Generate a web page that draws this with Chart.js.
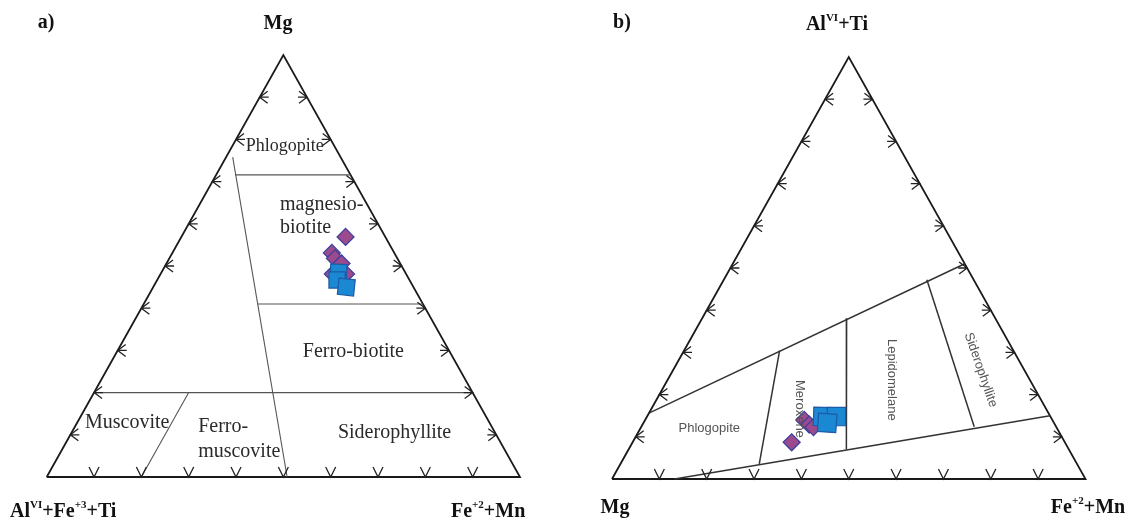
<!DOCTYPE html>
<html>
<head>
<meta charset="utf-8">
<script src="https://cdn.jsdelivr.net/npm/chart.js@4.4.1/dist/chart.umd.min.js"></script>
<style>
  html, body { margin: 0; padding: 0; background: #fff; }
  #wrap { position: relative; width: 1128px; height: 523px; }
  .box { position: absolute; top: 0; width: 564px; height: 523px; }
  #box-a { left: 0; }
  #box-b { left: 564px; }
</style>
</head>
<body>
<div id="wrap">
  <div class="box" id="box-a"><canvas id="chart-a"></canvas></div>
  <div class="box" id="box-b"><canvas id="chart-b"></canvas></div>
</div>
<script>
// every composition is [left corner, top corner, right corner] in %
const tickSteps = [10, 20, 30, 40, 50, 60, 70, 80, 90];
const corners = [[100, 0, 0], [0, 0, 100], [0, 100, 0], [100, 0, 0]];

// a) left AlVI+Fe3+Ti, top Mg, right Fe2+Mn
const aDiamonds = [
    [8.4, 56.9, 34.7], [13.2, 53.1, 33.7], [13.2, 51.8, 35.0],
    [12.4, 50.6, 37.0], [15.5, 48.1, 36.4], [12.7, 48.1, 39.2]
];
const aSquares = [[14.1, 48.5, 37.4], [15.3, 46.7, 38.0], [14.2, 45.0, 40.8]];
const aFields = [
    [[80, 20, 0], [0, 20, 80]],
    [[22.8, 75.8, 1.4], [49.2, 0, 50.8]],
    [[24.4, 71.6, 4.0], [0, 71.6, 28.4]],
    [[35, 41, 24], [0, 41, 59]],
    [[60, 20, 20], [80, 0, 20]]
];
const aFieldNames = ['Phlogopite', 'magnesio-', 'biotite', 'Ferro-biotite', 'Muscovite', 'Ferro-', 'muscovite', 'Siderophyllite'];

// b) left Mg, top AlVI+Ti, right Fe2+Mn
const bDiamonds = [[57.7, 8.7, 33.6], [52.4, 14.0, 33.6], [51.9, 12.9, 35.2], [51.3, 12.3, 36.4]];
const bSquares = [[48.1, 14.8, 37.1], [45.2, 14.8, 40.0], [47.9, 13.3, 38.8]];
const bFields = [
    [[84.4, 15.6, 0], [0, 51, 49]],
    [[86.8, 0, 13.2], [0, 15, 85]],
    [[49.4, 30.4, 20.2], [67.1, 3.6, 29.3]],
    [[31.4, 38.1, 30.5], [47, 7, 46]],
    [[9.9, 47.2, 42.9], [17.3, 12.4, 70.3]]
];
const bFieldNames = ['Phlogopite', 'Meroxene', 'Lepidomelane', 'Siderophyllite'];

const serif = '"Liberation Serif", "Times New Roman", serif';
const sans = '"Liberation Sans", Arial, sans-serif';

function tern(p) {
    const s = p[0] + p[1] + p[2];
    return { x: (p[2] + p[1] / 2) / s, y: p[1] / s };
}

function drawRich(ctx, parts, x, y, align, size) {
    const big = `bold ${size}px ${serif}`;
    const small = `bold ${Math.round(size * 0.55)}px ${serif}`;
    let w = 0;
    parts.forEach(p => { ctx.font = p[1] ? small : big; w += ctx.measureText(p[0]).width; });
    let cx = align === 'center' ? x - w / 2 : x;
    ctx.textAlign = 'left';
    ctx.textBaseline = 'middle';
    parts.forEach(p => {
        ctx.font = p[1] ? small : big;
        ctx.fillText(p[0], cx, p[1] ? y - size * 0.33 : y);
        cx += ctx.measureText(p[0]).width;
    });
}

const decor = {
    id: 'decor',
    afterDatasetsDraw(chart, args, opts) {
        const ctx = chart.ctx;
        const xs = chart.scales.x, ys = chart.scales.y;
        const P = (x, y) => [xs.getPixelForValue(x), ys.getPixelForValue(y)];
        ctx.save();

        // edge ticks
        ctx.strokeStyle = '#222';
        ctx.lineWidth = 1.3;
        ctx.beginPath();
        tickSteps.forEach(t => {
            const f = t / 100;
            let [x, y] = P(f / 2, f);
            ctx.moveTo(x + 8, y - 6); ctx.lineTo(x, y); ctx.lineTo(x + 8, y + 6);
            ctx.moveTo(x, y); ctx.lineTo(x + 9, y);
            [x, y] = P(1 - f / 2, f);
            ctx.moveTo(x - 8, y - 6); ctx.lineTo(x, y); ctx.lineTo(x - 8, y + 6);
            ctx.moveTo(x, y); ctx.lineTo(x - 9, y);
            [x, y] = P(f, 0);
            ctx.moveTo(x - 5, y - 10); ctx.lineTo(x, y); ctx.lineTo(x + 5, y - 10);
        });
        ctx.stroke();

        // field names
        opts.fields.forEach(l => {
            const [x, y] = P(l.x, l.y);
            ctx.save();
            ctx.translate(x, y);
            ctx.rotate((l.rot || 0) * Math.PI / 180);
            ctx.font = l.font;
            ctx.fillStyle = l.color;
            ctx.textAlign = l.align;
            ctx.textBaseline = 'middle';
            ctx.fillText(l.text, 0, 0);
            ctx.restore();
        });

        // corner titles
        ctx.fillStyle = '#111';
        opts.corners.forEach(c => drawRich(ctx, c.parts, c.x, c.y, c.align, c.size));
        ctx.restore();
    }
};

function makeChart(id, fields, diamonds, squares, look) {
    const datasets = [];
    datasets.push({
        label: 'squares',
        data: squares.map(tern),
        pointStyle: 'rect',
        pointRadius: look.sqR,
        pointRotation: look.sqRot,
        backgroundColor: '#1b88d4',
        borderColor: '#1e5aa6',
        borderWidth: 1.2,
        clip: false,
        order: 1
    });
    datasets.push({
        label: 'diamonds',
        data: diamonds.map(tern),
        pointStyle: 'rectRot',
        pointRadius: look.diaR,
        backgroundColor: '#9c4a8e',
        borderColor: '#3a3f9c',
        borderWidth: 1.2,
        clip: false,
        order: 2
    });
    datasets.push({
        label: 'triangle',
        data: corners.map(tern),
        showLine: true,
        borderColor: '#1a1a1a',
        borderWidth: 1.8,
        pointRadius: 0,
        clip: false,
        order: 4
    });
    fields.forEach((seg, i) => {
        datasets.push({
            label: 'field' + i,
            data: seg.map(tern),
            showLine: true,
            borderColor: look.fieldColor,
            borderWidth: look.fieldWidth,
            pointRadius: 0,
            clip: false,
            order: 3
        });
    });

    return new Chart(document.getElementById(id), {
        type: 'scatter',
        data: { datasets },
        options: {
            responsive: true,
            maintainAspectRatio: false,
            animation: false,
            events: [],
            layout: { padding: look.padding },
            scales: {
                x: { type: 'linear', min: 0, max: 1, display: false },
                y: { type: 'linear', min: 0, max: 1, display: false }
            },
            plugins: {
                legend: { display: false },
                tooltip: { enabled: false },
                decor: { fields: look.fields, corners: look.corners }
            }
        },
        plugins: [decor]
    });
}

const aFont = `20px ${serif}`;
const aLabelPos = [
    { x: 0.503, y: 0.783, align: 'center', font: `18px ${serif}` },
    { x: 0.493, y: 0.645, align: 'left' },
    { x: 0.493, y: 0.590, align: 'left' },
    { x: 0.648, y: 0.297, align: 'center' },
    { x: 0.170, y: 0.128, align: 'center' },
    { x: 0.320, y: 0.119, align: 'left' },
    { x: 0.320, y: 0.060, align: 'left' },
    { x: 0.735, y: 0.104, align: 'center' }
];

makeChart('chart-a', aFields, aDiamonds, aSquares, {
    padding: { left: 46.7, right: 44, top: 55, bottom: 46 },
    fieldColor: '#555',
    fieldWidth: 1.1,
    diaR: 8.5,
    sqR: 11.5,
    sqRot: [3, 0, 6],
    fields: aFieldNames.map((t, i) => Object.assign({ text: t, font: aFont, color: '#2a2a2a' }, aLabelPos[i])),
    corners: [
        { parts: [['a)']], x: 46, y: 23, align: 'center', size: 20 },
        { parts: [['Mg']], x: 278, y: 24, align: 'center', size: 20 },
        { parts: [['Al'], ['VI', true], ['+Fe'], ['+3', true], ['+Ti']], x: 10, y: 512, align: 'left', size: 20 },
        { parts: [['Fe'], ['+2', true], ['+Mn']], x: 451, y: 512, align: 'left', size: 20 }
    ]
});

const bFont = `13px ${sans}`;
const bLabelPos = [
    { x: 0.2055, y: 0.120, align: 'center', rot: 0 },
    { x: 0.3957, y: 0.166, align: 'center', rot: 90 },
    { x: 0.590, y: 0.235, align: 'center', rot: 90 },
    { x: 0.7786, y: 0.2585, align: 'center', rot: 71 }
];

makeChart('chart-b', bFields, bDiamonds, bSquares, {
    padding: { left: 48, right: 42.5, top: 57, bottom: 44 },
    fieldColor: '#333',
    fieldWidth: 1.5,
    diaR: 8.5,
    sqR: 13,
    sqRot: [2, 0, 4],
    fields: bFieldNames.map((t, i) => Object.assign({ text: t, font: bFont, color: '#555' }, bLabelPos[i])),
    corners: [
        { parts: [['b)']], x: 58, y: 23, align: 'center', size: 20 },
        { parts: [['Al'], ['VI', true], ['+Ti']], x: 273, y: 25, align: 'center', size: 20 },
        { parts: [['Mg']], x: 51, y: 508, align: 'center', size: 20 },
        { parts: [['Fe'], ['+2', true], ['+Mn']], x: 524, y: 508, align: 'center', size: 20 }
    ]
});
</script>
</body>
</html>
